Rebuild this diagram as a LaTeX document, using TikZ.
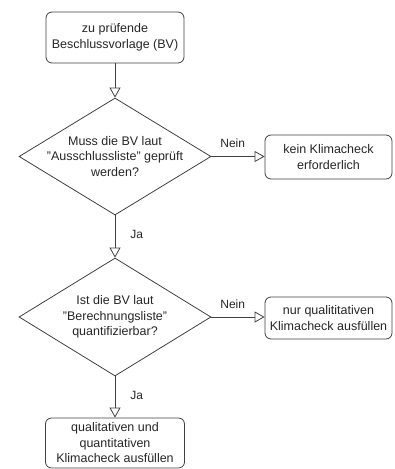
\documentclass[tikz,border=0pt]{standalone}
\usepackage{fontspec}
\setmainfont{Liberation Sans}
\usetikzlibrary{arrows.meta,shapes.geometric}
\colorlet{linegray}{black!75}
\colorlet{textgray}{black!85}
\tikzset{
  stepbox/.style={draw=linegray, line width=0.8pt, rounded corners=6pt,
    align=center, inner sep=2pt, text=textgray,
    font=\fontsize{12.5}{15.5}\selectfont},
  decide/.style={draw=linegray, line width=0.8pt, shape=diamond, inner sep=0pt},
  qtext/.style={align=center, inner sep=0pt, text=textgray,
    font=\fontsize{12.5}{15.5}\selectfont},
  flow/.style={-{Triangle[open, length=10pt, width=11pt]}, line width=0.8pt, draw=linegray},
  flabel/.style={font=\fontsize{12}{14}\selectfont, text=textgray, inner sep=2pt},
}

\begin{document}
\begin{tikzpicture}[x=1pt,y=1pt]
\useasboundingbox (0,0) rectangle (394,-469);
% start
\node[stepbox, minimum width=138pt, minimum height=51pt] (start) at (115,-37.5)
  {zu prüfende\\Beschlussvorlage (BV)};
% first question
\node[decide, minimum width=192pt, minimum height=117pt] (q1) at (115,-156.5) {};
\node[qtext] (q1txt) at (q1.center) {Muss die BV laut\\"Ausschlussliste" geprüft\\werden?};
\node[stepbox, minimum width=127pt, minimum height=44pt] (nocheck) at (328.5,-157)
  {kein Klimacheck\\erforderlich};
% second question
\node[decide, minimum width=192pt, minimum height=118pt] (q2) at (115,-317) {};
\node[qtext] (q2txt) at (q2.center) {Ist die BV laut\\"Berechnungsliste"\\quantifizierbar?};
\node[stepbox, minimum width=127pt, minimum height=42pt] (quali) at (328.5,-318)
  {nur qualititativen\\Klimacheck ausfüllen};
% end
\node[stepbox, minimum width=139pt, minimum height=50pt] (both) at (115,-443)
  {qualitativen und\\quantitativen\\Klimacheck ausfüllen};
% connectors
\draw[flow] (start) -- (q1.north);
\draw[flow] (q1.east) -- node[flabel, above=6pt, pos=0.4] {Nein} (nocheck.west |- q1.east);
\draw[flow] (q1.south) -- node[flabel, right=13pt, pos=0.45] {Ja} (q2.north);
\draw[flow] (q2.east) -- node[flabel, above=6pt, pos=0.4] {Nein} (quali.west |- q2.east);
\draw[flow] (q2.south) -- node[flabel, right=13pt, pos=0.45] {Ja} (both.north);
\end{tikzpicture}
\end{document}
